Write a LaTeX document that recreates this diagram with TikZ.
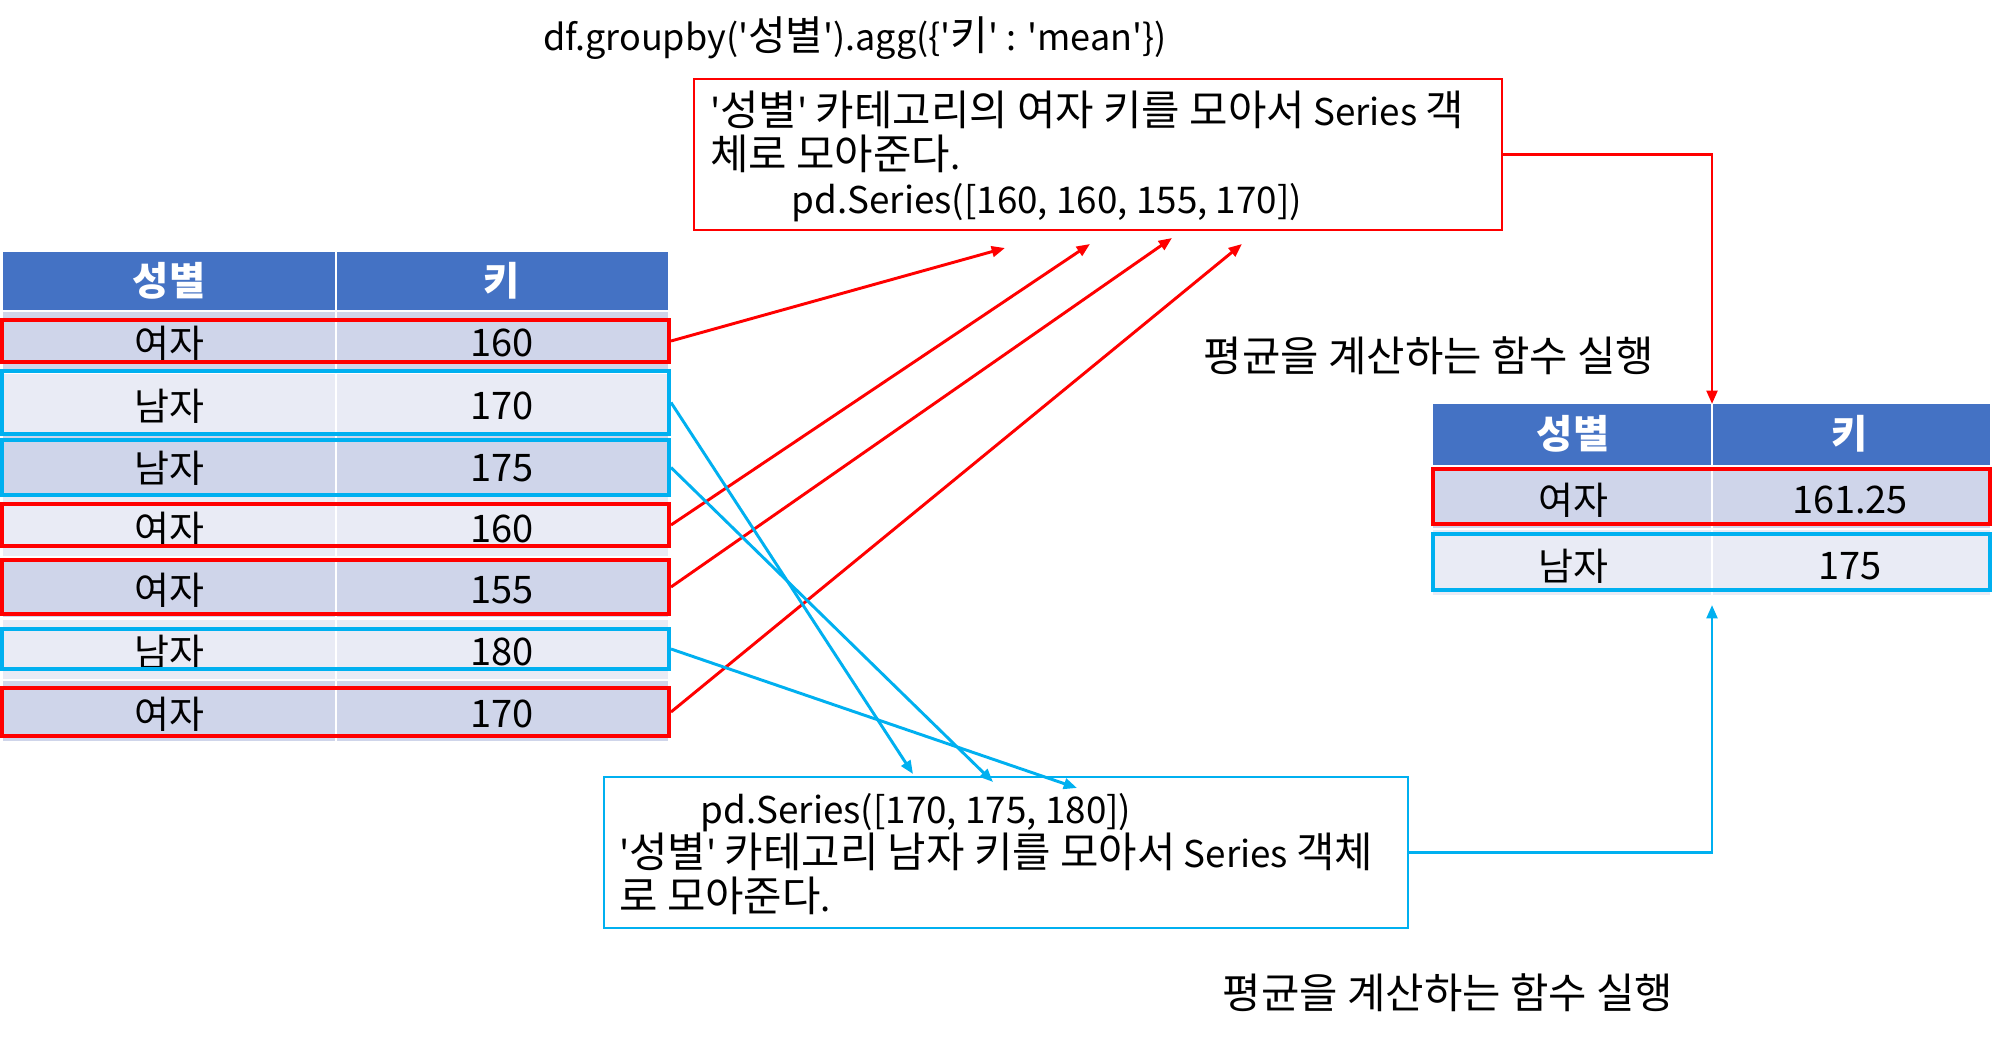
\documentclass[tikz,border=0pt]{standalone}
\usepackage{fontspec}
\newfontfamily\kr{Noto Sans CJK KR}
\newfontfamily\krK{Noto Sans CJK KR}[Scale=1.135]
\newcommand\K[1]{{\krK #1}}
\usetikzlibrary{arrows.meta,fit}
\definecolor{hdr}{HTML}{4472C4}
\definecolor{rowA}{HTML}{CFD5EA}
\definecolor{rowB}{HTML}{E9EBF5}
\definecolor{hred}{HTML}{FF0000}
\definecolor{hblue}{HTML}{00B0F0}
\tikzset{
  cell/.style={font=\kr\fontsize{28.5}{32}\selectfont, inner sep=0pt},
  hdrtext/.style={font=\kr\bfseries\fontsize{29.5}{32}\selectfont, text=white, inner sep=0pt},
  lbl/.style={font=\kr\fontsize{27.6}{33}\selectfont, inner sep=0pt},
  klbl/.style={font=\kr\fontsize{31.3}{35}\selectfont, inner sep=0pt},
  redhl/.style={draw=hred, line width=3pt, inner sep=0pt},
  bluehl/.style={draw=hblue, line width=3pt, inner sep=0pt},
  redbox/.style={draw=hred, line width=2.2pt, inner sep=0pt},
  bluebox/.style={draw=hblue, line width=2.2pt, inner sep=0pt},
  redarrow/.style={draw=hred, line width=2.2pt, -{Triangle[length=10pt,width=8pt]}},
  bluearrow/.style={draw=hblue, line width=2.2pt, -{Triangle[length=10pt,width=8pt]}},
  sep/.style={draw=white, line width=1.6pt}
}
\begin{document}
\begin{tikzpicture}[x=0.75pt,y=-0.75pt]
\useasboundingbox (0,0) rectangle (1994,1041);
\fill[white] (0,0) rectangle (1994,1041);

% ---------- left table ----------
\fill[hdr] (3,252) rectangle (668,310);
\foreach \k/\c in {0/rowA,1/rowB,2/rowA,3/rowB,4/rowA,5/rowB,6/rowA}{
  \fill[\c] (3,{312+61.3*\k}) rectangle (668,{312+61.3*(\k+1)});
}
\foreach \k in {1,...,6}{
  \draw[sep] (3,{312+61.3*\k}) -- (668,{312+61.3*\k});
}
\draw[sep] (336,252) -- (336,741);

\node[hdrtext] (lh1) at (169,281) {성별};
\node[hdrtext] (lh2) at (502,281) {키};

\node[cell] (g1) at (169,343) {여자};  \node[cell] (v1) at (502,343) {160};
\node[cell] (g2) at (169,406) {남자};  \node[cell] (v2) at (502,406) {170};
\node[cell] (g3) at (169,468) {남자};  \node[cell] (v3) at (502,468) {175};
\node[cell] (g4) at (169,529) {여자};  \node[cell] (v4) at (502,529) {160};
\node[cell] (g5) at (169,590) {여자};  \node[cell] (v5) at (502,590) {155};
\node[cell] (g6) at (169,652) {남자};  \node[cell] (v6) at (502,652) {180};
\node[cell] (g7) at (169,714) {여자};  \node[cell] (v7) at (502,714) {170};

\node[redhl,  fit={(2,320) (669,362)}] (r1) {};
\node[bluehl, fit={(2,371) (669,434)}] (r2) {};
\node[bluehl, fit={(2,440) (669,495)}] (r3) {};
\node[redhl,  fit={(2,504) (669,546)}] (r4) {};
\node[redhl,  fit={(2,560) (669,614)}] (r5) {};
\node[bluehl, fit={(2,629) (669,669)}] (r6) {};
\node[redhl,  fit={(2,688) (669,736)}] (r7) {};

% ---------- right table ----------
\fill[hdr] (1433,404) rectangle (1990,465);
\fill[rowA] (1433,467) rectangle (1990,529);
\fill[rowB] (1433,529) rectangle (1990,595);
\draw[sep] (1433,529) -- (1990,529);
\draw[sep] (1712,404) -- (1712,595);

\node[hdrtext] (rh1) at (1573,434) {성별};
\node[hdrtext] (rh2) at (1850,434) {키};
\node[cell] (rg1) at (1573,500) {여자};  \node[cell] (rv1) at (1850,500) {161.25};
\node[cell] (rg2) at (1573,566) {남자};  \node[cell] (rv2) at (1850,566) {175};

\node[redhl,  fit={(1433,469) (1990,524)}] (rr1) {};
\node[bluehl, fit={(1433,534) (1990,590)}] (rr2) {};

% ---------- title and labels ----------
\node[lbl, font=\kr\fontsize{27}{33}\selectfont] (title) at (855,38)
  {df.groupby('\K{성별}').agg(\{'\K{키}' : 'mean'\})};
\node[klbl] (mean1) at (1429,356) {평균을 계산하는 함수 실행};
\node[klbl] (mean2) at (1448,993) {평균을 계산하는 함수 실행};

% ---------- top (red) box ----------
\node[redbox, fit={(694,79) (1502,230)}] (topbox) {};
\node[lbl, anchor=west, align=left] (toptext) at (710,156)
  {'\K{성별}' \K{카테고리의 여자 키를 모아서} Series \K{객}\\
   \K{체로 모아준다}.\\
   \hspace*{61pt}pd.Series([160, 160, 155, 170])};

% ---------- bottom (blue) box ----------
\node[bluebox, fit={(604,777) (1408,928)}] (botbox) {};
\node[lbl, anchor=west, align=left] (bottext) at (619,854)
  {\hspace*{61pt}pd.Series([170, 175, 180])\\
   '\K{성별}' \K{카테고리 남자 키를 모아서} Series \K{객체}\\
   \K{로 모아준다}.};

% ---------- arrow targets ----------
\coordinate (ta1) at (1005,248);
\coordinate (ta2) at (1090,244);
\coordinate (ta3) at (1172,238);
\coordinate (ta4) at (1242,244);
\coordinate (tb1) at (913,774);
\coordinate (tb2) at (993,782);
\coordinate (tb3) at (1077,788);
\coordinate (rtop) at (1712,404);
\coordinate (rbot) at (1712,605);

\draw[redarrow] (r1.east) -- (ta1);
\draw[redarrow] (r4.east) -- (ta2);
\draw[redarrow] (r5.east) -- (ta3);
\draw[redarrow] (r7.east) -- (ta4);

\draw[bluearrow] (r2.east) -- (tb1);
\draw[bluearrow] (r3.east) -- (tb2);
\draw[bluearrow] (r6.east) -- (tb3);

\draw[redarrow] (topbox.east) -| (rtop);
\draw[bluearrow] (botbox.east) -| (rbot);
\end{tikzpicture}
\end{document}
